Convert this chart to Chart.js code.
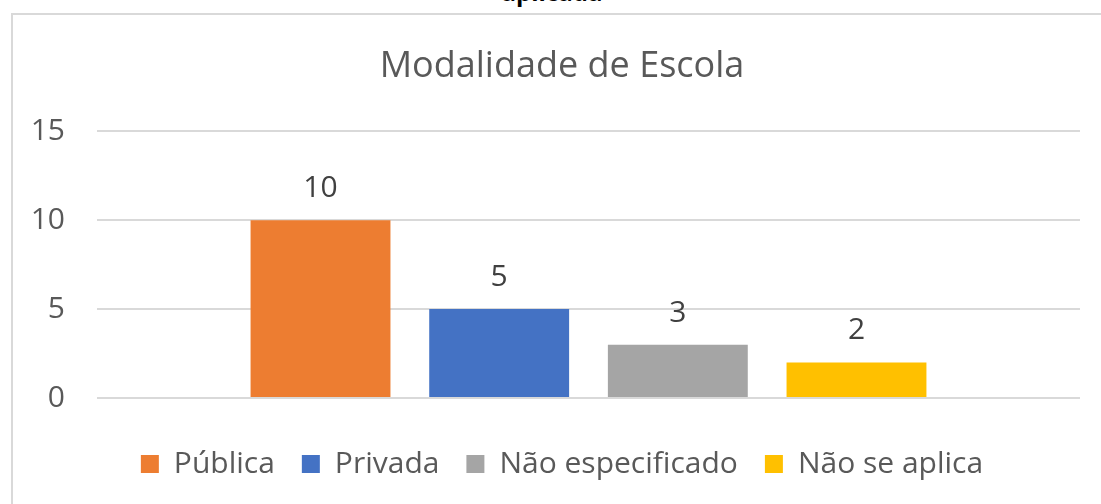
<!DOCTYPE html>
<html>
<head>
<meta charset="utf-8">
<script src="https://cdn.jsdelivr.net/npm/chart.js@4.4.0/dist/chart.umd.min.js"></script>
<style>
    html, body { margin: 0; padding: 0; background: #fff; overflow: hidden; width: 1101px; height: 504px; }
    #frame { position: absolute; left: 11px; top: 13px; width: 1200px; height: 600px;
             border-left: 2px solid #d9d9d9; border-top: 2px solid #d9d9d9; }
    #above { position: absolute; left: 490px; top: -21px; width: 124px; text-align: center;
             font: bold 24px 'Open Sans', sans-serif; line-height: 26px; color: #000; }
    #chart { position: absolute; left: 0; top: 0; }
</style>
</head>
<body>
<div id="above">aplicada</div>
<div id="frame"></div>
<canvas id="chart" width="1124" height="504"></canvas>
<script>
// Valeurs
const categories = ['Pública', 'Privada', 'Não especificado', 'Não se aplica'];
const values = [10, 5, 3, 2];
const colors = ['#ed7d31', '#4472c4', '#a5a5a5', '#ffc000'];
const yTicks = [0, 5, 10, 15];

const FONT = 'Open Sans';

// Étiquettes de valeur au-dessus des barres
const valueLabels = {
    id: 'valueLabels',
    afterDatasetsDraw(chart) {
        const ctx = chart.ctx;
        ctx.save();
        ctx.font = '30px "' + FONT + '"';
        ctx.fillStyle = '#404040';
        ctx.textAlign = 'center';
        ctx.textBaseline = 'alphabetic';
        chart.data.datasets.forEach((ds, i) => {
            chart.getDatasetMeta(i).data.forEach((bar, j) => {
                ctx.fillText(String(ds.data[j]), bar.x, bar.y - 23);
            });
        });
        ctx.restore();
    }
};

const datasets = categories.map((name, i) => ({
    label: name,
    data: [values[i]],
    backgroundColor: colors[i],
    borderWidth: 0,
    categoryPercentage: 0.727,
    barPercentage: 0.783
}));

const ctx = document.getElementById('chart').getContext('2d');
new Chart(ctx, {
    type: 'bar',
    data: { labels: [''], datasets: datasets },
    plugins: [valueLabels],
    options: {
        responsive: false,
        animation: false,
        layout: { padding: { left: 0, right: 0, top: 0, bottom: 15 } },
        plugins: {
            title: {
                display: true,
                text: 'Modalidade de Escola',
                color: '#595959',
                font: { family: FONT, size: 36, weight: 'normal' },
                padding: { top: 45, bottom: 43 }
            },
            legend: {
                position: 'bottom',
                labels: {
                    color: '#595959',
                    font: { family: FONT, size: 30 },
                    boxWidth: 18,
                    boxHeight: 18,
                    padding: 27
                }
            },
            tooltip: { enabled: false }
        },
        scales: {
            x: {
                grid: { display: false },
                border: { display: false },
                ticks: { display: false },
                afterFit(scale) { scale.height = 24; }
            },
            y: {
                min: yTicks[0],
                max: yTicks[yTicks.length - 1],
                afterBuildTicks(scale) { scale.ticks = yTicks.map(v => ({ value: v })); },
                grid: { color: '#d9d9d9', lineWidth: 2, drawTicks: false },
                border: { display: false },
                ticks: {
                    color: '#595959',
                    font: { family: FONT, size: 30 },
                    padding: 32
                },
                afterFit(scale) { scale.width = 97; }
            },
            // marge droite du tracé, sans décaler titre ni légende
            yRight: {
                position: 'right',
                grid: { display: false },
                border: { display: false },
                ticks: { display: false },
                afterFit(scale) { scale.width = 44; }
            }
        }
    }
});
</script>
</body>
</html>
